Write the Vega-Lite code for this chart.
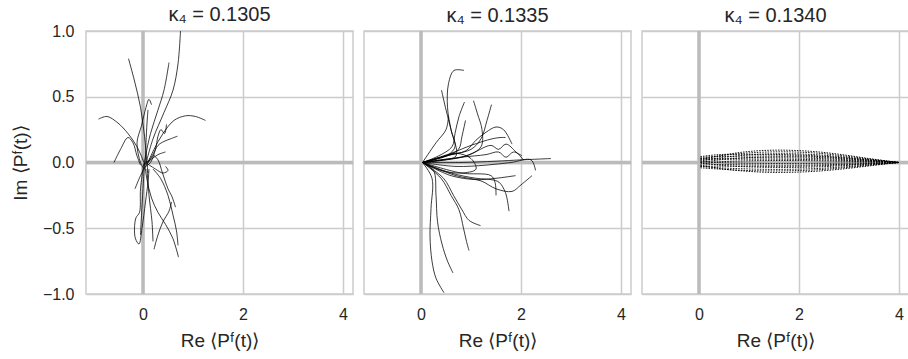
{
"$schema": "https://vega.github.io/schema/vega-lite/v6.json",
"background": "white",
"padding": {"left": 10, "top": 4, "right": 0, "bottom": 0},
"spacing": 5,
"config": {
  "view": {"stroke": "#cccccc", "strokeWidth": 1.5},
  "font": "Liberation Sans",
  "title": {"fontSize": 20, "font": "Liberation Sans", "fontWeight": "normal", "color": "#262626"},
  "axis": {"grid": true, "gridColor": "#cccccc", "gridWidth": 1.5, "domain": false, "ticks": false,
           "labelFont": "Liberation Sans", "labelFontSize": 16, "labelColor": "#262626",
           "titleFont": "Liberation Sans", "titleFontSize": 19, "titleFontWeight": "normal", "titleColor": "#262626"}
},
"datasets": {
"p1": [
{"c":"A","i":0,"x":0.05,"y":-0.02},{"c":"A","i":1,"x":0.2,"y":0.18},{"c":"A","i":2,"x":0.42,"y":0.38},{"c":"A","i":3,"x":0.6,"y":0.55},{"c":"A","i":4,"x":0.7,"y":0.75},{"c":"A","i":5,"x":0.75,"y":1.0},
{"c":"B","i":0,"x":-0.29,"y":0.79},{"c":"B","i":1,"x":-0.17,"y":0.62},{"c":"B","i":2,"x":-0.05,"y":0.42},{"c":"B","i":3,"x":0.03,"y":0.2},{"c":"B","i":4,"x":0.08,"y":0.0},{"c":"B","i":5,"x":0.1,"y":-0.08},
{"c":"C","i":0,"x":0.52,"y":0.76},{"c":"C","i":1,"x":0.42,"y":0.55},{"c":"C","i":2,"x":0.3,"y":0.4},{"c":"C","i":3,"x":0.15,"y":0.22},{"c":"C","i":4,"x":0.05,"y":0.05},{"c":"C","i":5,"x":0.0,"y":-0.05},
{"c":"D","i":0,"x":0.17,"y":0.44},{"c":"D","i":1,"x":0.12,"y":0.48},{"c":"D","i":2,"x":0.06,"y":0.42},{"c":"D","i":3,"x":-0.03,"y":0.28},{"c":"D","i":4,"x":-0.12,"y":0.15},{"c":"D","i":5,"x":-0.05,"y":0.0},{"c":"D","i":6,"x":0.02,"y":-0.05},
{"c":"E","i":0,"x":-0.89,"y":0.33},{"c":"E","i":1,"x":-0.72,"y":0.35},{"c":"E","i":2,"x":-0.5,"y":0.3},{"c":"E","i":3,"x":-0.3,"y":0.22},{"c":"E","i":4,"x":-0.12,"y":0.12},{"c":"E","i":5,"x":0.02,"y":0.0},
{"c":"F","i":0,"x":-0.58,"y":0.0},{"c":"F","i":1,"x":-0.45,"y":0.1},{"c":"F","i":2,"x":-0.3,"y":0.19},{"c":"F","i":3,"x":-0.2,"y":0.15},{"c":"F","i":4,"x":-0.12,"y":0.05},{"c":"F","i":5,"x":-0.05,"y":-0.02},
{"c":"G","i":0,"x":1.25,"y":0.32},{"c":"G","i":1,"x":1.05,"y":0.35},{"c":"G","i":2,"x":0.85,"y":0.355},{"c":"G","i":3,"x":0.62,"y":0.32},{"c":"G","i":4,"x":0.4,"y":0.22},{"c":"G","i":5,"x":0.22,"y":0.1},{"c":"G","i":6,"x":0.1,"y":0.0},
{"c":"H","i":0,"x":0.47,"y":0.29},{"c":"H","i":1,"x":0.43,"y":0.22},{"c":"H","i":2,"x":0.36,"y":0.25},{"c":"H","i":3,"x":0.3,"y":0.2},{"c":"H","i":4,"x":0.25,"y":0.1},{"c":"H","i":5,"x":0.15,"y":0.0},{"c":"H","i":6,"x":0.05,"y":-0.03},
{"c":"I","i":0,"x":0.69,"y":0.2},{"c":"I","i":1,"x":0.55,"y":0.18},{"c":"I","i":2,"x":0.42,"y":0.16},{"c":"I","i":3,"x":0.3,"y":0.13},{"c":"I","i":4,"x":0.18,"y":0.05},{"c":"I","i":5,"x":0.08,"y":0.0},
{"c":"J","i":0,"x":0.45,"y":0.08},{"c":"J","i":1,"x":0.3,"y":0.06},{"c":"J","i":2,"x":0.15,"y":0.02},{"c":"J","i":3,"x":0.0,"y":-0.02},
{"c":"K","i":0,"x":0.0,"y":-0.05},{"c":"K","i":1,"x":-0.05,"y":-0.2},{"c":"K","i":2,"x":-0.07,"y":-0.38},{"c":"K","i":3,"x":-0.14,"y":-0.42},{"c":"K","i":4,"x":-0.17,"y":-0.5},{"c":"K","i":5,"x":-0.15,"y":-0.58},{"c":"K","i":6,"x":-0.08,"y":-0.62},{"c":"K","i":7,"x":-0.02,"y":-0.5},{"c":"K","i":8,"x":0.05,"y":-0.3},{"c":"K","i":9,"x":0.1,"y":-0.15},{"c":"K","i":10,"x":0.12,"y":-0.05},
{"c":"L","i":0,"x":0.22,"y":-0.66},{"c":"L","i":1,"x":0.3,"y":-0.55},{"c":"L","i":2,"x":0.4,"y":-0.45},{"c":"L","i":3,"x":0.52,"y":-0.37},{"c":"L","i":4,"x":0.57,"y":-0.3},
{"c":"M","i":0,"x":0.71,"y":-0.72},{"c":"M","i":1,"x":0.6,"y":-0.58},{"c":"M","i":2,"x":0.45,"y":-0.47},{"c":"M","i":3,"x":0.3,"y":-0.38},{"c":"M","i":4,"x":0.17,"y":-0.27},{"c":"M","i":5,"x":0.08,"y":-0.13},{"c":"M","i":6,"x":0.03,"y":0.0},
{"c":"N","i":0,"x":0.2,"y":-0.05},{"c":"N","i":1,"x":0.35,"y":-0.12},{"c":"N","i":2,"x":0.5,"y":-0.25},{"c":"N","i":3,"x":0.6,"y":-0.4},{"c":"N","i":4,"x":0.67,"y":-0.52},{"c":"N","i":5,"x":0.7,"y":-0.63},
{"c":"O","i":0,"x":0.65,"y":-0.34},{"c":"O","i":1,"x":0.58,"y":-0.26},{"c":"O","i":2,"x":0.5,"y":-0.2},{"c":"O","i":3,"x":0.39,"y":-0.08},{"c":"O","i":4,"x":0.3,"y":0.02},{"c":"O","i":5,"x":0.2,"y":0.06},
{"c":"P","i":0,"x":0.05,"y":0.0},{"c":"P","i":1,"x":0.25,"y":-0.05},{"c":"P","i":2,"x":0.4,"y":-0.08},{"c":"P","i":3,"x":0.5,"y":-0.06},{"c":"P","i":4,"x":0.45,"y":-0.03},
{"c":"R","i":0,"x":-0.16,"y":-0.2},{"c":"R","i":1,"x":-0.05,"y":-0.1},{"c":"R","i":2,"x":0.05,"y":-0.03},{"c":"R","i":3,"x":0.2,"y":0.05},
{"c":"S","i":0,"x":0.03,"y":0.0},{"c":"S","i":1,"x":0.0,"y":-0.2},{"c":"S","i":2,"x":-0.03,"y":-0.4},{"c":"S","i":3,"x":-0.05,"y":-0.55},
{"c":"T","i":0,"x":0.08,"y":-0.05},{"c":"T","i":1,"x":0.12,"y":-0.25},{"c":"T","i":2,"x":0.18,"y":-0.45},{"c":"T","i":3,"x":0.2,"y":-0.6},
{"c":"W","i":0,"x":0.05,"y":0.0},{"c":"W","i":1,"x":0.06,"y":0.15},{"c":"W","i":2,"x":0.08,"y":0.3},{"c":"W","i":3,"x":0.1,"y":0.4}
],
"p2": [
{"c":"a","i":0,"x":0.03,"y":0.0},{"c":"a","i":1,"x":0.3,"y":0.03},{"c":"a","i":2,"x":0.55,"y":0.06},{"c":"a","i":3,"x":0.68,"y":0.12},{"c":"a","i":4,"x":0.6,"y":0.25},{"c":"a","i":5,"x":0.53,"y":0.42},{"c":"a","i":6,"x":0.55,"y":0.6},{"c":"a","i":7,"x":0.66,"y":0.7},{"c":"a","i":8,"x":0.86,"y":0.7},
{"c":"b","i":0,"x":0.03,"y":0.0},{"c":"b","i":1,"x":0.4,"y":0.02},{"c":"b","i":2,"x":0.7,"y":0.05},{"c":"b","i":3,"x":0.6,"y":0.25},{"c":"b","i":4,"x":0.5,"y":0.4},{"c":"b","i":5,"x":0.41,"y":0.55},
{"c":"c","i":0,"x":0.03,"y":0.0},{"c":"c","i":1,"x":0.35,"y":0.05},{"c":"c","i":2,"x":0.62,"y":0.12},{"c":"c","i":3,"x":0.68,"y":0.22},{"c":"c","i":4,"x":0.76,"y":0.35},{"c":"c","i":5,"x":0.87,"y":0.46},
{"c":"d","i":0,"x":0.03,"y":0.0},{"c":"d","i":1,"x":0.45,"y":0.04},{"c":"d","i":2,"x":0.75,"y":0.1},{"c":"d","i":3,"x":0.82,"y":0.2},{"c":"d","i":4,"x":0.89,"y":0.32},
{"c":"e","i":0,"x":0.03,"y":0.0},{"c":"e","i":1,"x":0.5,"y":0.02},{"c":"e","i":2,"x":0.9,"y":0.05},{"c":"e","i":3,"x":1.2,"y":0.12},{"c":"e","i":4,"x":1.22,"y":0.25},{"c":"e","i":5,"x":1.13,"y":0.37},{"c":"e","i":6,"x":1.05,"y":0.47},
{"c":"f","i":0,"x":0.03,"y":0.0},{"c":"f","i":1,"x":0.6,"y":0.06},{"c":"f","i":2,"x":1.0,"y":0.1},{"c":"f","i":3,"x":1.2,"y":0.18},{"c":"f","i":4,"x":1.32,"y":0.32},{"c":"f","i":5,"x":1.41,"y":0.44},
{"c":"g","i":0,"x":0.03,"y":0.0},{"c":"g","i":1,"x":0.5,"y":0.05},{"c":"g","i":2,"x":0.9,"y":0.09},{"c":"g","i":3,"x":1.1,"y":0.17},{"c":"g","i":4,"x":1.3,"y":0.23},{"c":"g","i":5,"x":1.5,"y":0.27},{"c":"g","i":6,"x":1.65,"y":0.25},{"c":"g","i":7,"x":1.82,"y":0.14},
{"c":"h","i":0,"x":0.03,"y":0.0},{"c":"h","i":1,"x":0.6,"y":0.07},{"c":"h","i":2,"x":1.0,"y":0.13},{"c":"h","i":3,"x":1.42,"y":0.18},{"c":"h","i":4,"x":1.6,"y":0.19},{"c":"h","i":5,"x":1.69,"y":0.19},
{"c":"i","i":0,"x":0.03,"y":0.0},{"c":"i","i":1,"x":0.8,"y":0.04},{"c":"i","i":2,"x":1.3,"y":0.06},{"c":"i","i":3,"x":1.55,"y":0.08},{"c":"i","i":4,"x":1.7,"y":0.04},{"c":"i","i":5,"x":1.85,"y":0.08},{"c":"i","i":6,"x":2.02,"y":0.05},
{"c":"j","i":0,"x":0.03,"y":0.0},{"c":"j","i":1,"x":0.8,"y":0.0},{"c":"j","i":2,"x":1.5,"y":0.01},{"c":"j","i":3,"x":2.0,"y":0.02},{"c":"j","i":4,"x":2.6,"y":0.03},
{"c":"k","i":0,"x":0.03,"y":0.0},{"c":"k","i":1,"x":0.7,"y":-0.03},{"c":"k","i":2,"x":1.3,"y":-0.02},{"c":"k","i":3,"x":1.8,"y":0.0},{"c":"k","i":4,"x":2.2,"y":0.02},{"c":"k","i":5,"x":2.29,"y":-0.06},
{"c":"l","i":0,"x":0.03,"y":0.0},{"c":"l","i":1,"x":0.22,"y":-0.12},{"c":"l","i":2,"x":0.2,"y":-0.35},{"c":"l","i":3,"x":0.18,"y":-0.56},{"c":"l","i":4,"x":0.22,"y":-0.75},{"c":"l","i":5,"x":0.3,"y":-0.88},{"c":"l","i":6,"x":0.46,"y":-0.99},
{"c":"m","i":0,"x":0.03,"y":0.0},{"c":"m","i":1,"x":0.25,"y":-0.06},{"c":"m","i":2,"x":0.3,"y":-0.25},{"c":"m","i":3,"x":0.33,"y":-0.45},{"c":"m","i":4,"x":0.42,"y":-0.62},{"c":"m","i":5,"x":0.53,"y":-0.75},{"c":"m","i":6,"x":0.64,"y":-0.84},
{"c":"n","i":0,"x":0.03,"y":0.0},{"c":"n","i":1,"x":0.4,"y":-0.12},{"c":"n","i":2,"x":0.6,"y":-0.25},{"c":"n","i":3,"x":0.76,"y":-0.36},{"c":"n","i":4,"x":0.85,"y":-0.5},{"c":"n","i":5,"x":0.91,"y":-0.6},{"c":"n","i":6,"x":0.96,"y":-0.67},
{"c":"o","i":0,"x":0.03,"y":0.0},{"c":"o","i":1,"x":0.45,"y":-0.12},{"c":"o","i":2,"x":0.65,"y":-0.25},{"c":"o","i":3,"x":0.82,"y":-0.36},{"c":"o","i":4,"x":0.96,"y":-0.44},{"c":"o","i":5,"x":1.19,"y":-0.48},
{"c":"p","i":0,"x":0.03,"y":0.0},{"c":"p","i":1,"x":0.6,"y":-0.08},{"c":"p","i":2,"x":1.1,"y":-0.12},{"c":"p","i":3,"x":1.4,"y":-0.13},{"c":"p","i":4,"x":1.56,"y":-0.15},{"c":"p","i":5,"x":1.69,"y":-0.23},{"c":"p","i":6,"x":1.76,"y":-0.37},
{"c":"q","i":0,"x":0.03,"y":0.0},{"c":"q","i":1,"x":0.7,"y":-0.1},{"c":"q","i":2,"x":1.2,"y":-0.14},{"c":"q","i":3,"x":1.5,"y":-0.2},{"c":"q","i":4,"x":1.82,"y":-0.22},{"c":"q","i":5,"x":2.0,"y":-0.17},{"c":"q","i":6,"x":2.22,"y":-0.1},
{"c":"r","i":0,"x":0.03,"y":0.0},{"c":"r","i":1,"x":0.8,"y":-0.08},{"c":"r","i":2,"x":1.4,"y":-0.1},{"c":"r","i":3,"x":1.48,"y":-0.15},{"c":"r","i":4,"x":1.5,"y":-0.25},
{"c":"s","i":0,"x":0.03,"y":0.0},{"c":"s","i":1,"x":0.6,"y":-0.1},{"c":"s","i":2,"x":1.1,"y":-0.13},{"c":"s","i":3,"x":1.5,"y":-0.12},{"c":"s","i":4,"x":1.89,"y":-0.1},
{"c":"t","i":0,"x":0.03,"y":0.0},{"c":"t","i":1,"x":0.4,"y":-0.06},{"c":"t","i":2,"x":0.8,"y":-0.08},{"c":"t","i":3,"x":1.1,"y":-0.05},{"c":"t","i":4,"x":1.0,"y":0.03},{"c":"t","i":5,"x":0.7,"y":0.07},{"c":"t","i":6,"x":0.4,"y":0.04},{"c":"t","i":7,"x":0.1,"y":0.0},
{"c":"u","i":0,"x":0.03,"y":0.0},{"c":"u","i":1,"x":0.3,"y":0.15},{"c":"u","i":2,"x":0.5,"y":0.25},{"c":"u","i":3,"x":0.55,"y":0.35},
{"c":"v","i":0,"x":0.03,"y":0.0},{"c":"v","i":1,"x":0.9,"y":0.05},{"c":"v","i":2,"x":1.4,"y":0.13},{"c":"v","i":3,"x":1.55,"y":0.1},{"c":"v","i":4,"x":1.7,"y":0.14},{"c":"v","i":5,"x":1.9,"y":0.08},{"c":"v","i":6,"x":2.05,"y":0.02}
],
"p3": [
{"c":"1","i":0,"x":0.03,"y":0.02},{"c":"1","i":1,"x":0.4,"y":0.05},{"c":"1","i":2,"x":0.9,"y":0.08},{"c":"1","i":3,"x":1.4,"y":0.093},{"c":"1","i":4,"x":1.9,"y":0.092},{"c":"1","i":5,"x":2.4,"y":0.08},{"c":"1","i":6,"x":2.9,"y":0.058},{"c":"1","i":7,"x":3.4,"y":0.03},{"c":"1","i":8,"x":3.8,"y":0.01},{"c":"1","i":9,"x":4.0,"y":0.0},
{"c":"2","i":0,"x":0.03,"y":0.03},{"c":"2","i":1,"x":0.4,"y":0.05},{"c":"2","i":2,"x":0.9,"y":0.07},{"c":"2","i":3,"x":1.4,"y":0.08},{"c":"2","i":4,"x":1.9,"y":0.08},{"c":"2","i":5,"x":2.4,"y":0.07},{"c":"2","i":6,"x":2.9,"y":0.05},{"c":"2","i":7,"x":3.4,"y":0.027},{"c":"2","i":8,"x":3.8,"y":0.009},{"c":"2","i":9,"x":4.0,"y":0.0},
{"c":"3","i":0,"x":0.03,"y":0.01},{"c":"3","i":1,"x":0.4,"y":0.035},{"c":"3","i":2,"x":0.9,"y":0.055},{"c":"3","i":3,"x":1.4,"y":0.065},{"c":"3","i":4,"x":1.9,"y":0.066},{"c":"3","i":5,"x":2.4,"y":0.058},{"c":"3","i":6,"x":2.9,"y":0.042},{"c":"3","i":7,"x":3.4,"y":0.022},{"c":"3","i":8,"x":3.8,"y":0.007},{"c":"3","i":9,"x":4.0,"y":0.0},
{"c":"4","i":0,"x":0.03,"y":0.04},{"c":"4","i":1,"x":0.4,"y":0.045},{"c":"4","i":2,"x":0.9,"y":0.048},{"c":"4","i":3,"x":1.4,"y":0.05},{"c":"4","i":4,"x":1.9,"y":0.05},{"c":"4","i":5,"x":2.4,"y":0.045},{"c":"4","i":6,"x":2.9,"y":0.033},{"c":"4","i":7,"x":3.4,"y":0.018},{"c":"4","i":8,"x":3.8,"y":0.006},{"c":"4","i":9,"x":4.0,"y":0.0},
{"c":"5","i":0,"x":0.03,"y":0.0},{"c":"5","i":1,"x":0.4,"y":0.02},{"c":"5","i":2,"x":0.9,"y":0.035},{"c":"5","i":3,"x":1.4,"y":0.042},{"c":"5","i":4,"x":1.9,"y":0.043},{"c":"5","i":5,"x":2.4,"y":0.038},{"c":"5","i":6,"x":2.9,"y":0.028},{"c":"5","i":7,"x":3.4,"y":0.015},{"c":"5","i":8,"x":3.8,"y":0.005},{"c":"5","i":9,"x":4.0,"y":0.0},
{"c":"6","i":0,"x":0.03,"y":0.02},{"c":"6","i":1,"x":0.4,"y":0.025},{"c":"6","i":2,"x":0.9,"y":0.025},{"c":"6","i":3,"x":1.4,"y":0.025},{"c":"6","i":4,"x":1.9,"y":0.024},{"c":"6","i":5,"x":2.4,"y":0.021},{"c":"6","i":6,"x":2.9,"y":0.016},{"c":"6","i":7,"x":3.4,"y":0.009},{"c":"6","i":8,"x":3.8,"y":0.003},{"c":"6","i":9,"x":4.0,"y":0.0},
{"c":"7","i":0,"x":0.03,"y":-0.01},{"c":"7","i":1,"x":0.4,"y":0.005},{"c":"7","i":2,"x":0.9,"y":0.012},{"c":"7","i":3,"x":1.4,"y":0.015},{"c":"7","i":4,"x":1.9,"y":0.015},{"c":"7","i":5,"x":2.4,"y":0.013},{"c":"7","i":6,"x":2.9,"y":0.01},{"c":"7","i":7,"x":3.4,"y":0.005},{"c":"7","i":8,"x":3.8,"y":0.002},{"c":"7","i":9,"x":4.0,"y":0.0},
{"c":"8","i":0,"x":0.03,"y":0.01},{"c":"8","i":1,"x":0.4,"y":0.0},{"c":"8","i":2,"x":0.9,"y":-0.005},{"c":"8","i":3,"x":1.4,"y":-0.007},{"c":"8","i":4,"x":1.9,"y":-0.007},{"c":"8","i":5,"x":2.4,"y":-0.006},{"c":"8","i":6,"x":2.9,"y":-0.004},{"c":"8","i":7,"x":3.4,"y":-0.002},{"c":"8","i":8,"x":3.8,"y":-0.001},{"c":"8","i":9,"x":4.0,"y":0.0},
{"c":"9","i":0,"x":0.03,"y":-0.02},{"c":"9","i":1,"x":0.4,"y":-0.015},{"c":"9","i":2,"x":0.9,"y":-0.018},{"c":"9","i":3,"x":1.4,"y":-0.02},{"c":"9","i":4,"x":1.9,"y":-0.02},{"c":"9","i":5,"x":2.4,"y":-0.018},{"c":"9","i":6,"x":2.9,"y":-0.013},{"c":"9","i":7,"x":3.4,"y":-0.007},{"c":"9","i":8,"x":3.8,"y":-0.002},{"c":"9","i":9,"x":4.0,"y":0.0},
{"c":"10","i":0,"x":0.03,"y":0.0},{"c":"10","i":1,"x":0.4,"y":-0.02},{"c":"10","i":2,"x":0.9,"y":-0.032},{"c":"10","i":3,"x":1.4,"y":-0.037},{"c":"10","i":4,"x":1.9,"y":-0.037},{"c":"10","i":5,"x":2.4,"y":-0.033},{"c":"10","i":6,"x":2.9,"y":-0.024},{"c":"10","i":7,"x":3.4,"y":-0.013},{"c":"10","i":8,"x":3.8,"y":-0.004},{"c":"10","i":9,"x":4.0,"y":0.0},
{"c":"11","i":0,"x":0.03,"y":-0.03},{"c":"11","i":1,"x":0.4,"y":-0.04},{"c":"11","i":2,"x":0.9,"y":-0.048},{"c":"11","i":3,"x":1.4,"y":-0.052},{"c":"11","i":4,"x":1.9,"y":-0.051},{"c":"11","i":5,"x":2.4,"y":-0.045},{"c":"11","i":6,"x":2.9,"y":-0.033},{"c":"11","i":7,"x":3.4,"y":-0.018},{"c":"11","i":8,"x":3.8,"y":-0.006},{"c":"11","i":9,"x":4.0,"y":0.0},
{"c":"12","i":0,"x":0.03,"y":-0.04},{"c":"12","i":1,"x":0.4,"y":-0.05},{"c":"12","i":2,"x":0.9,"y":-0.06},{"c":"12","i":3,"x":1.4,"y":-0.064},{"c":"12","i":4,"x":1.9,"y":-0.062},{"c":"12","i":5,"x":2.4,"y":-0.055},{"c":"12","i":6,"x":2.9,"y":-0.04},{"c":"12","i":7,"x":3.4,"y":-0.022},{"c":"12","i":8,"x":3.8,"y":-0.007},{"c":"12","i":9,"x":4.0,"y":0.0},
{"c":"13","i":0,"x":0.03,"y":-0.02},{"c":"13","i":1,"x":0.4,"y":-0.045},{"c":"13","i":2,"x":0.9,"y":-0.065},{"c":"13","i":3,"x":1.4,"y":-0.075},{"c":"13","i":4,"x":1.9,"y":-0.074},{"c":"13","i":5,"x":2.4,"y":-0.065},{"c":"13","i":6,"x":2.9,"y":-0.048},{"c":"13","i":7,"x":3.4,"y":-0.026},{"c":"13","i":8,"x":3.8,"y":-0.008},{"c":"13","i":9,"x":4.0,"y":0.0},
{"c":"14","i":0,"x":0.03,"y":0.03},{"c":"14","i":1,"x":0.4,"y":0.03},{"c":"14","i":2,"x":0.9,"y":0.035},{"c":"14","i":3,"x":1.4,"y":0.035},{"c":"14","i":4,"x":1.9,"y":0.034},{"c":"14","i":5,"x":2.4,"y":0.03},{"c":"14","i":6,"x":2.9,"y":0.022},{"c":"14","i":7,"x":3.4,"y":0.012},{"c":"14","i":8,"x":3.8,"y":0.004},{"c":"14","i":9,"x":4.0,"y":0.0},
{"c":"15","i":0,"x":0.03,"y":-0.03},{"c":"15","i":1,"x":0.4,"y":-0.028},{"c":"15","i":2,"x":0.9,"y":-0.028},{"c":"15","i":3,"x":1.4,"y":-0.029},{"c":"15","i":4,"x":1.9,"y":-0.028},{"c":"15","i":5,"x":2.4,"y":-0.025},{"c":"15","i":6,"x":2.9,"y":-0.018},{"c":"15","i":7,"x":3.4,"y":-0.01},{"c":"15","i":8,"x":3.8,"y":-0.003},{"c":"15","i":9,"x":4.0,"y":0.0},
{"c":"16","i":0,"x":0.03,"y":0.045},{"c":"16","i":1,"x":0.4,"y":0.06},{"c":"16","i":2,"x":0.9,"y":0.062},{"c":"16","i":3,"x":1.4,"y":0.062},{"c":"16","i":4,"x":1.9,"y":0.058},{"c":"16","i":5,"x":2.4,"y":0.05},{"c":"16","i":6,"x":2.9,"y":0.036},{"c":"16","i":7,"x":3.4,"y":0.02},{"c":"16","i":8,"x":3.8,"y":0.006},{"c":"16","i":9,"x":4.0,"y":0.0}
]
},
"hconcat": [
{
  "width": 267, "height": 263,
  "title": {"text": "κ₄ = 0.1305", "offset": -2},
  "layer": [
    {"data": {"values": [{}]}, "mark": {"type": "rule", "color": "#bbbbbb", "strokeWidth": 3.5}, "encoding": {"x": {"datum": 0, "type": "quantitative"}}},
    {"data": {"values": [{}]}, "mark": {"type": "rule", "color": "#bbbbbb", "strokeWidth": 3.5}, "encoding": {"y": {"datum": 0, "type": "quantitative"}}},
    {"data": {"name": "p1"},
     "mark": {"type": "line", "interpolate": "catmull-rom", "color": "black", "strokeWidth": 0.9, "opacity": 0.85, "clip": true},
     "encoding": {
       "x": {"field": "x", "type": "quantitative", "scale": {"domain": [-1.14, 4.2], "nice": false, "zero": false},
             "axis": {"values": [0, 2, 4], "title": "Re ⟨Pᶠ(t)⟩", "labelPadding": 12, "titlePadding": 9}},
       "y": {"field": "y", "type": "quantitative", "scale": {"domain": [-1, 1], "nice": false, "zero": false},
             "axis": {"values": [-1, -0.5, 0, 0.5, 1], "format": ".1f", "title": "Im ⟨Pᶠ(t)⟩", "labelPadding": 12, "titlePadding": 12}},
       "detail": {"field": "c"},
       "order": {"field": "i", "type": "quantitative"}
     }}
  ]
},
{
  "width": 267, "height": 263,
  "title": {"text": "κ₄ = 0.1335", "offset": 3},
  "layer": [
    {"data": {"values": [{}]}, "mark": {"type": "rule", "color": "#bbbbbb", "strokeWidth": 3.5}, "encoding": {"x": {"datum": 0, "type": "quantitative"}}},
    {"data": {"values": [{}]}, "mark": {"type": "rule", "color": "#bbbbbb", "strokeWidth": 3.5}, "encoding": {"y": {"datum": 0, "type": "quantitative"}}},
    {"data": {"name": "p2"},
     "mark": {"type": "line", "interpolate": "catmull-rom", "color": "black", "strokeWidth": 0.9, "opacity": 0.85, "clip": true},
     "encoding": {
       "x": {"field": "x", "type": "quantitative", "scale": {"domain": [-1.14, 4.2], "nice": false, "zero": false},
             "axis": {"values": [0, 2, 4], "title": "Re ⟨Pᶠ(t)⟩", "labelPadding": 12, "titlePadding": 9}},
       "y": {"field": "y", "type": "quantitative", "scale": {"domain": [-1, 1], "nice": false, "zero": false},
             "axis": {"values": [-1, -0.5, 0, 0.5, 1], "labels": false, "title": null}},
       "detail": {"field": "c"},
       "order": {"field": "i", "type": "quantitative"}
     }}
  ]
},
{
  "width": 267, "height": 263,
  "title": {"text": "κ₄ = 0.1340", "offset": 3},
  "layer": [
    {"data": {"values": [{}]}, "mark": {"type": "rule", "color": "#bbbbbb", "strokeWidth": 3.5}, "encoding": {"x": {"datum": 0, "type": "quantitative"}}},
    {"data": {"values": [{}]}, "mark": {"type": "rule", "color": "#bbbbbb", "strokeWidth": 3.5}, "encoding": {"y": {"datum": 0, "type": "quantitative"}}},
    {"data": {"name": "p3"},
     "mark": {"type": "line", "interpolate": "catmull-rom", "color": "black", "strokeWidth": 1, "opacity": 0.9, "strokeDash": [1.5, 1.2], "clip": true},
     "encoding": {
       "x": {"field": "x", "type": "quantitative", "scale": {"domain": [-1.14, 4.2], "nice": false, "zero": false},
             "axis": {"values": [0, 2, 4], "title": "Re ⟨Pᶠ(t)⟩", "labelPadding": 12, "titlePadding": 9}},
       "y": {"field": "y", "type": "quantitative", "scale": {"domain": [-1, 1], "nice": false, "zero": false},
             "axis": {"values": [-1, -0.5, 0, 0.5, 1], "labels": false, "title": null}},
       "detail": {"field": "c"},
       "order": {"field": "i", "type": "quantitative"}
     }}
  ]
}
]
}
